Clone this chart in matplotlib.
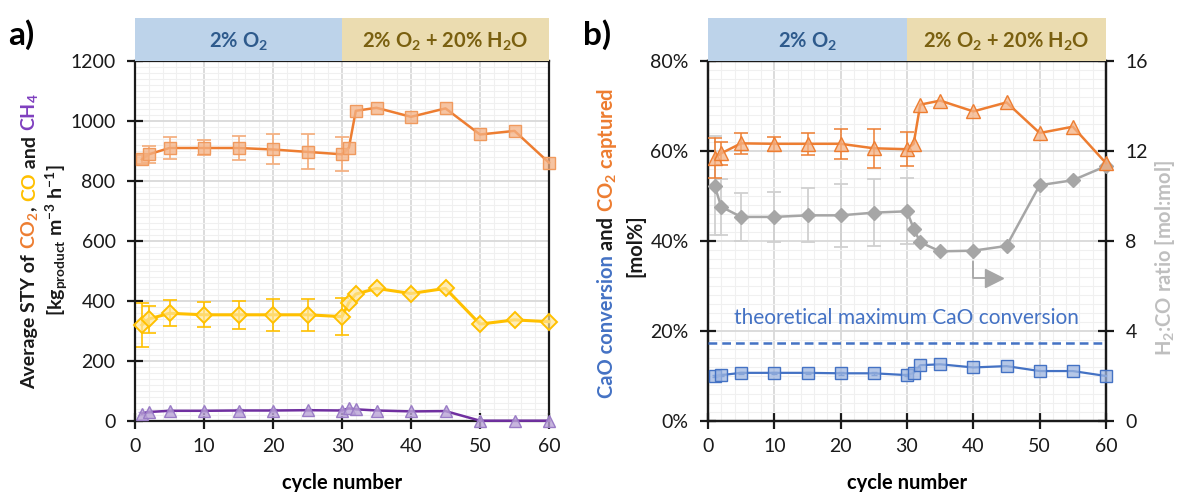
import numpy as np
import matplotlib
matplotlib.use("Agg")
import matplotlib.pyplot as plt
from matplotlib.colors import to_rgba
from matplotlib.ticker import MultipleLocator, FuncFormatter

plt.rcParams["font.family"] = ["Lato", "DejaVu Sans"]
plt.rcParams["mathtext.default"] = "regular"
plt.rcParams["font.size"] = 13.5

# ---------------------------------------------------------------
# data
# ---------------------------------------------------------------
cycles = [1, 2, 5, 10, 15, 20, 25, 30, 31, 32, 35, 40, 45, 50, 55, 60]
err_cycles = [1, 2, 5, 10, 15, 20, 25, 30]   # error bars only in the O2-only phase

# (a) space-time yield, kg_product m-3 h-1
sty_co2 = [872, 889, 910, 910, 910, 905, 897, 889, 911, 1034, 1044, 1014, 1042, 955, 967, 861]
sty_co2_err = [15, 29, 36, 25, 40, 50, 58, 56]
sty_co = [320, 340, 359, 354, 354, 354, 354, 348, 395, 423, 442, 425, 442, 323, 337, 331]
sty_co_err = [72, 45, 43, 42, 46, 54, 54, 61]
sty_ch4 = [25, 30, 34, 34, 35, 35, 36, 35, 42, 39, 35, 32, 33, 1, 1, 1]
sty_ch4_err = [4, 4, 4, 4, 4, 4, 4, 4]

# (b) CaO conversion and CO2 captured, mol%
co2_captured = [58.4, 59.5, 61.7, 61.6, 61.6, 61.6, 60.6, 60.4, 61.6, 70.3, 71.2, 68.8, 70.8, 64.0, 65.4, 57.3]
co2_captured_err = [4.4, 2.6, 2.3, 1.6, 2.4, 3.3, 4.3, 3.8]
cao_conversion = [10.0, 10.2, 10.7, 10.7, 10.7, 10.6, 10.6, 10.2, 10.7, 12.4, 12.6, 11.9, 12.2, 11.1, 11.1, 10.0]
cao_conversion_err = [0.3, 0.3, 0.3, 0.3, 0.3, 0.3, 0.3, 0.3]
cao_max = 17.3

# (b) H2:CO ratio, mol:mol
h2_co = [10.45, 9.52, 9.07, 9.07, 9.14, 9.14, 9.26, 9.32, 8.55, 7.94, 7.54, 7.57, 7.78, 10.48, 10.7, 11.33]
h2_co_err = [2.2, 1.25, 1.08, 1.12, 1.2, 1.4, 1.48, 1.46]

phases = ["2% O$_2$", "2% O$_2$ + 20% H$_2$O"]
phase_edges = [0, 30, 60]
phase_fill = ["#BDD3EA", "#EBDCB0"]
phase_text = ["#2E5A8C", "#7A6010"]

# colours
ORANGE, ORANGE_FILL = "#ED7D31", to_rgba("#F4B183", 0.75)
YELLOW, YELLOW_FILL = "#FFC000", to_rgba("#FFE699", 0.7)
PURPLE, PURPLE_FILL = "#7030A0", to_rgba("#B9A3D6", 0.8)
BLUE, BLUE_FILL = "#4472C4", to_rgba("#9DB5E0", 0.75)
GREY, GREY_ERR = "#A6A6A6", "#D0D0D0"
LABEL_GREY = "#BFBFBF"


def style_axes(ax, ymax, ymajor, yminor):
    ax.set_xlim(0, 60)
    ax.set_ylim(0, ymax)
    ax.xaxis.set_major_locator(MultipleLocator(10))
    ax.xaxis.set_minor_locator(MultipleLocator(2))
    ax.yaxis.set_major_locator(MultipleLocator(ymajor))
    ax.yaxis.set_minor_locator(MultipleLocator(yminor))
    ax.grid(which="major", color="#D9D9D9", lw=1.3)
    ax.grid(which="minor", color="#F0F0F0", lw=0.8)
    ax.set_axisbelow(True)
    for s in ax.spines.values():
        s.set_linewidth(1.6)
        s.set_color("#1A1A1A")
    ax.tick_params(which="major", direction="inout", length=12, width=1.6,
                   labelsize=14, colors="#1A1A1A", pad=8)
    ax.tick_params(which="minor", length=0)
    ax.tick_params(axis="x", pad=6)
    ax.set_xlabel("cycle number", fontweight="bold", fontsize=14.5, labelpad=13)


def phase_header(fig, ax):
    pos = ax.get_position()
    hx = fig.add_axes([pos.x0, pos.y1, pos.width, 43 / 492])
    hx.set_xlim(0, 60)
    hx.set_ylim(0, 1)
    for i, name in enumerate(phases):
        x0, x1 = phase_edges[i], phase_edges[i + 1]
        hx.axvspan(x0, x1, color=phase_fill[i], lw=0)
        hx.text((x0 + x1) / 2, 0.45, name, ha="center", va="center",
                color=phase_text[i], fontweight="bold", fontsize=14.5)
    hx.axis("off")


def stacked_label(fig, x, yc, parts, **kw):
    # vertical label made of differently coloured pieces, centred on yc
    texts = [fig.text(0, 0, s, color=c, rotation=90, rotation_mode="anchor",
                      ha="left", va="center", **kw) for s, c in parts]
    fig.canvas.draw()
    r = fig.canvas.get_renderer()
    H = fig.bbox.height
    hs = [t.get_window_extent(r).height for t in texts]
    y = yc * H - sum(hs) / 2
    for t, h in zip(texts, hs):
        t.set_position((x, y / H))
        y += h


fig = plt.figure(figsize=(11.81, 4.92), dpi=100)

# ---------------------------------------------------------------
# (a) STY
# ---------------------------------------------------------------
ax1 = fig.add_axes([135 / 1181, 1 - 421 / 492, 414 / 1181, 360 / 492])
style_axes(ax1, 1200, 200, 20)

n = len(err_cycles)
ax1.errorbar(err_cycles, sty_co2[:n], yerr=sty_co2_err, fmt="none",
             ecolor="#F4B183", elinewidth=1.3, capsize=5, capthick=1.3, zorder=2)
ax1.errorbar(err_cycles, sty_co[:n], yerr=sty_co_err, fmt="none",
             ecolor=YELLOW, elinewidth=1.2, capsize=5, capthick=1.2, zorder=2)
ax1.errorbar(err_cycles, sty_ch4[:n], yerr=sty_ch4_err, fmt="none",
             ecolor="#B9A3D6", elinewidth=1.0, capsize=3, capthick=1.0, zorder=2)

ax1.plot(cycles, sty_co2, color=ORANGE, lw=1.8, marker="s", ms=9,
         mfc=ORANGE_FILL, mec="#F09A5E", mew=1.0, zorder=3, clip_on=False)
ax1.plot(cycles, sty_co, color=YELLOW, lw=2.2, marker="D", ms=8,
         mfc=YELLOW_FILL, mec=YELLOW, mew=1.4, zorder=3, clip_on=False)
ax1.plot(cycles, sty_ch4, color=PURPLE, lw=1.8, marker="^", ms=9,
         mfc=PURPLE_FILL, mec="#9A7CC6", mew=1.0, zorder=3, clip_on=False)

phase_header(fig, ax1)

stacked_label(fig, 30 / 1181, 1 - 241 / 492,
              [("Average STY of ", "#1A1A1A"), ("CO$_2$", ORANGE), (", ", "#1A1A1A"),
               ("CO", YELLOW), (" and ", "#1A1A1A"), ("CH$_4$", "#7F3FBF")],
              fontsize=14, fontweight="bold")
stacked_label(fig, 57 / 1181, 1 - 240 / 492,
              [("[kg$_{product}$ m$^{-3}$ h$^{-1}$]", "#1A1A1A")],
              fontsize=14, fontweight="bold")
fig.text(8 / 1181, 1 - 35 / 492, "a)", fontsize=24, fontweight="bold",
         va="center", ha="left")

# ---------------------------------------------------------------
# (b) CaO conversion, CO2 captured and H2:CO ratio
# ---------------------------------------------------------------
ax2 = fig.add_axes([708 / 1181, 1 - 421 / 492, 398 / 1181, 360 / 492])
style_axes(ax2, 80, 20, 2)
ax2.yaxis.set_major_formatter(FuncFormatter(lambda v, p: f"{v:.0f}%"))

ax3 = ax2.twinx()
ax3.set_ylim(0, 16)
ax3.yaxis.set_major_locator(MultipleLocator(4))
ax3.tick_params(which="major", direction="inout", length=12, width=1.6,
                labelsize=14, colors="#1A1A1A", pad=8)
for s in ax3.spines.values():
    s.set_linewidth(1.6)
    s.set_color("#1A1A1A")

ax3.errorbar(err_cycles, h2_co[:n], yerr=h2_co_err, fmt="none",
             ecolor=GREY_ERR, elinewidth=1.3, capsize=5, capthick=1.3, zorder=2)
ax3.plot(cycles, h2_co, color=GREY, lw=1.8, marker="D", ms=7,
         mfc=GREY, mec=GREY, zorder=3, clip_on=False)

ax3.errorbar(err_cycles, [v / 5 for v in co2_captured[:n]],
             yerr=[v / 5 for v in co2_captured_err], fmt="none",
             ecolor=ORANGE, elinewidth=1.1, capsize=5, capthick=1.1, zorder=4)
ax3.plot(cycles, [v / 5 for v in co2_captured], color=ORANGE, lw=1.8,
         marker="^", ms=10, mfc=ORANGE_FILL, mec=ORANGE, mew=1.0, zorder=5, clip_on=False)

ax3.axhline(cao_max / 5, color=BLUE, lw=1.8, ls=(0, (3.5, 2)), zorder=4)
ax3.text(3.9, 23.0 / 5, "theoretical maximum CaO conversion", color=BLUE,
         fontsize=15, ha="left", va="center", zorder=4)
ax3.errorbar(err_cycles, [v / 5 for v in cao_conversion[:n]],
             yerr=[v / 5 for v in cao_conversion_err], fmt="none",
             ecolor=BLUE, elinewidth=1.0, capsize=2, zorder=4)
ax3.plot(cycles, [v / 5 for v in cao_conversion], color=BLUE, lw=1.6,
         marker="s", ms=9, mfc=BLUE_FILL, mec=BLUE, mew=1.0, zorder=5, clip_on=False)

# arrow pointing the grey series to the right-hand axis
ax3.plot([40, 40, 42.3], [7.05, 6.35, 6.35], color=GREY, lw=1.3, zorder=4)
ax3.plot([43.1], [6.35], marker=">", ms=13, color=GREY, mec=GREY, zorder=4)

phase_header(fig, ax2)

stacked_label(fig, 607 / 1181, 1 - 243 / 492,
              [("CaO conversion", BLUE), (" and ", "#1A1A1A"), ("CO$_2$ captured", ORANGE)],
              fontsize=14.5, fontweight="bold")
stacked_label(fig, 635 / 1181, 1 - 246 / 492, [("[mol%]", "#1A1A1A")],
              fontsize=14.5, fontweight="bold")
stacked_label(fig, 1165 / 1181, 1 - 258 / 492,
              [("H$_2$:CO ratio [mol:mol]", LABEL_GREY)], fontsize=14.5, fontweight="bold")
fig.text(583 / 1181, 1 - 35 / 492, "b)", fontsize=24, fontweight="bold",
         va="center", ha="left")

fig.savefig("out.png", dpi=100)
